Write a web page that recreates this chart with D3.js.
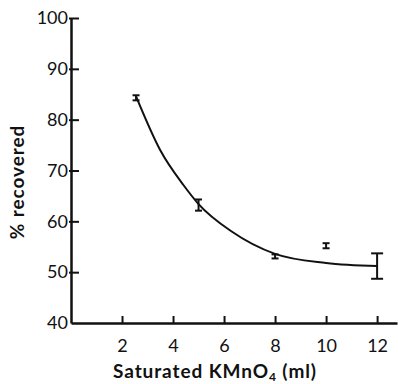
<!DOCTYPE html>
<html>
<head>
<meta charset="utf-8">
<script src="https://cdn.jsdelivr.net/npm/d3@7"></script>
<style>
  html, body { margin: 0; padding: 0; background: #fff; }
  svg { display: block; }
  text { font-family: Lato, "Open Sans", sans-serif; fill: #111; }
</style>
</head>
<body>
<div id="chart"></div>
<script>
// measured points with error bars
const pointX = [2.55, 5, 8, 10, 12]
const pointY = [84.3, 63.2, 53.1, 55.2, 51.2]
const pointErr = [0.5, 1.1, 0.4, 0.5, 2.5]

// fitted curve
const curveX = [2.55, 3.5, 4.4, 5.0, 6.3, 8.0, 10.0, 12.0]
const curveY = [84.6, 74.0, 67.2, 63.4, 58.0, 53.6, 51.8, 51.2]

const xTicks = [2, 4, 6, 8, 10, 12]
const yTicks = [40, 50, 60, 70, 80, 90, 100]

const width = 398
const height = 384

const x = d3.scaleLinear().domain([0, 12.78]).range([71, 397])
const y = d3.scaleLinear().domain([40, 100]).range([323, 18])

const svg = d3.select('#chart').append('svg')
  .attr('width', width)
  .attr('height', height)

// axes
const xAxis = svg.append('g')
  .attr('transform', `translate(0,${y(40)})`)
  .call(d3.axisBottom(x).tickValues(xTicks).tickSize(-7).tickPadding(16).tickSizeOuter(0))

const yAxis = svg.append('g')
  .attr('transform', `translate(${x(0)},0)`)
  .call(d3.axisLeft(y).tickValues(yTicks).tickSize(-8).tickPadding(5).tickSizeOuter(0))

xAxis.select('.domain').attr('stroke', '#111').attr('stroke-width', 2.5)
yAxis.select('.domain').attr('stroke', '#111').attr('stroke-width', 2.5)
xAxis.selectAll('.tick line').attr('stroke', '#111').attr('stroke-width', 2)
yAxis.selectAll('.tick line').attr('stroke', '#111').attr('stroke-width', 2)
  .attr('x1', -2)
xAxis.selectAll('.tick text').attr('font-size', 18).attr('fill', '#111')
yAxis.selectAll('.tick text').attr('font-size', 18).attr('fill', '#111')
  .attr('x', -3)
yAxis.selectAll('.tick').filter(d => d === 40).select('line').remove()

// axis titles
svg.append('text')
  .attr('x', 215)
  .attr('y', 378)
  .attr('text-anchor', 'middle')
  .attr('font-size', 19)
  .attr('font-weight', 'bold')
  .attr('letter-spacing', 0.9)
  .call(t => {
    t.append('tspan').text('Saturated KMnO')
    t.append('tspan').text('4').attr('font-size', 12).attr('dy', 3)
    t.append('tspan').text(' (ml)').attr('dy', -3)
  })

svg.append('text')
  .attr('transform', `translate(24,182) rotate(-90)`)
  .attr('text-anchor', 'middle')
  .attr('font-size', 19)
  .attr('font-weight', 'bold')
  .attr('letter-spacing', 0.9)
  .text('% recovered')

// curve
const line = d3.line()
  .x(d => x(d[0]))
  .y(d => y(d[1]))
  .curve(d3.curveMonotoneX)

svg.append('path')
  .datum(d3.zip(curveX, curveY))
  .attr('fill', 'none')
  .attr('stroke', '#111')
  .attr('stroke-width', 2)
  .attr('d', line)

// error bars
const pts = d3.zip(pointX, pointY, pointErr)
const bars = svg.append('g')
  .attr('stroke', '#111')
  .attr('stroke-width', 2)
  .selectAll('g')
  .data(pts)
  .join('g')

bars.append('line')
  .attr('x1', d => x(d[0])).attr('x2', d => x(d[0]))
  .attr('y1', d => y(d[1] + d[2])).attr('y2', d => y(d[1] - d[2]))

bars.selectAll('.cap')
  .data(d => [[d[0], d[1] + d[2], d[2]], [d[0], d[1] - d[2], d[2]]])
  .join('line')
  .attr('class', 'cap')
  .attr('x1', d => x(d[0]) - (d[2] > 2 ? 6 : 3.5))
  .attr('x2', d => x(d[0]) + (d[2] > 2 ? 6 : 3.5))
  .attr('y1', d => y(d[1])).attr('y2', d => y(d[1]))
</script>
</body>
</html>
